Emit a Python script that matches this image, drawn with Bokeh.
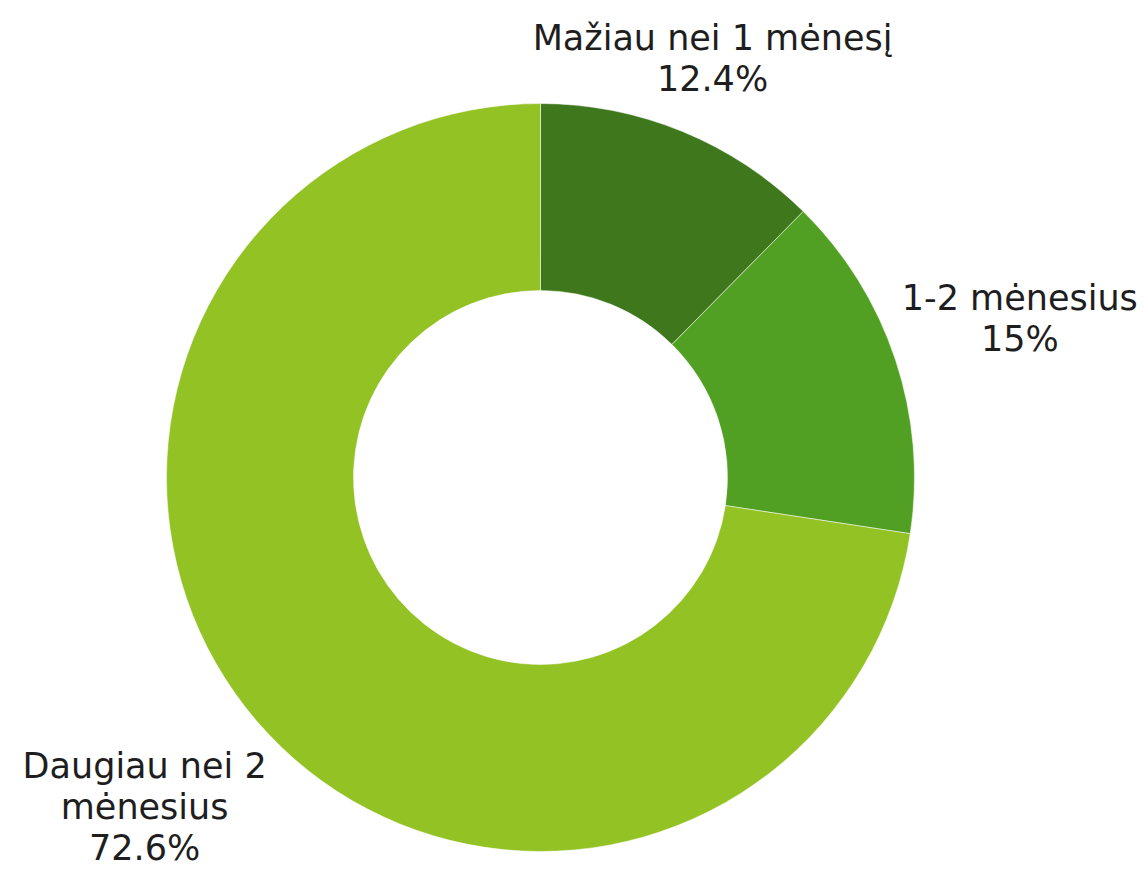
import math
from bokeh.plotting import figure
from bokeh.models import ColumnDataSource, Range1d
from bokeh.core.properties import value
from bokeh.embed import file_html
from bokeh.resources import INLINE

# ---- data ----
categories = ["Mažiau nei 1 mėnesį", "1-2 mėnesius", "Daugiau nei 2 mėnesius"]
values = [12.4, 15.0, 72.6]
value_labels = ["12.4%", "15%", "72.6%"]
label_lines = [["Mažiau nei 1 mėnesį"], ["1-2 mėnesius"], ["Daugiau nei 2", "mėnesius"]]
colors = ["#3f781c", "#52a023", "#93c225"]

# ---- layout ----
W, H = 1146, 872
cx, cy = 540, H - 477
r_out, r_in = 374, 187
label_dist = [453, 505, 522]
label_dy = [0, 0, 11]
line_h = 41
font_size = "35px"

p = figure(width=W, height=H, output_backend="svg", toolbar_location=None,
           x_range=Range1d(0, W), y_range=Range1d(0, H), min_border=0)
p.axis.visible = False
p.grid.visible = False
p.outline_line_color = None
p.background_fill_color = "white"

total = sum(values)
starts, ends, mids = [], [], []
cum = 0.0
for v in values:
    a0 = math.pi / 2 - cum / total * 2 * math.pi
    cum += v
    a1 = math.pi / 2 - cum / total * 2 * math.pi
    starts.append(a0)
    ends.append(a1)
    mids.append((a0 + a1) / 2)

src = ColumnDataSource(dict(x=[cx] * len(values), y=[cy] * len(values),
                            start=starts, end=ends, color=colors))
p.annular_wedge(x="x", y="y", inner_radius=r_in, outer_radius=r_out,
                start_angle="start", end_angle="end", direction="clock",
                fill_color="color", line_color="white", line_alpha=0.5,
                line_width=1, source=src)

tx, ty, tt = [], [], []
for i, m in enumerate(mids):
    lines = label_lines[i] + [value_labels[i]]
    ax = cx + label_dist[i] * math.cos(m)
    ay = cy + label_dist[i] * math.sin(m) + label_dy[i]
    n = len(lines)
    for j, t in enumerate(lines):
        tx.append(ax)
        ty.append(ay + ((n - 1) / 2 - j) * line_h)
        tt.append(t)

p.text(x=tx, y=ty, text=tt, text_align="center", text_baseline="middle",
       text_font=value("DejaVu Sans"), text_font_size=font_size,
       text_color="#1e1e1e")

open("out.html", "w").write(file_html(p, INLINE))
